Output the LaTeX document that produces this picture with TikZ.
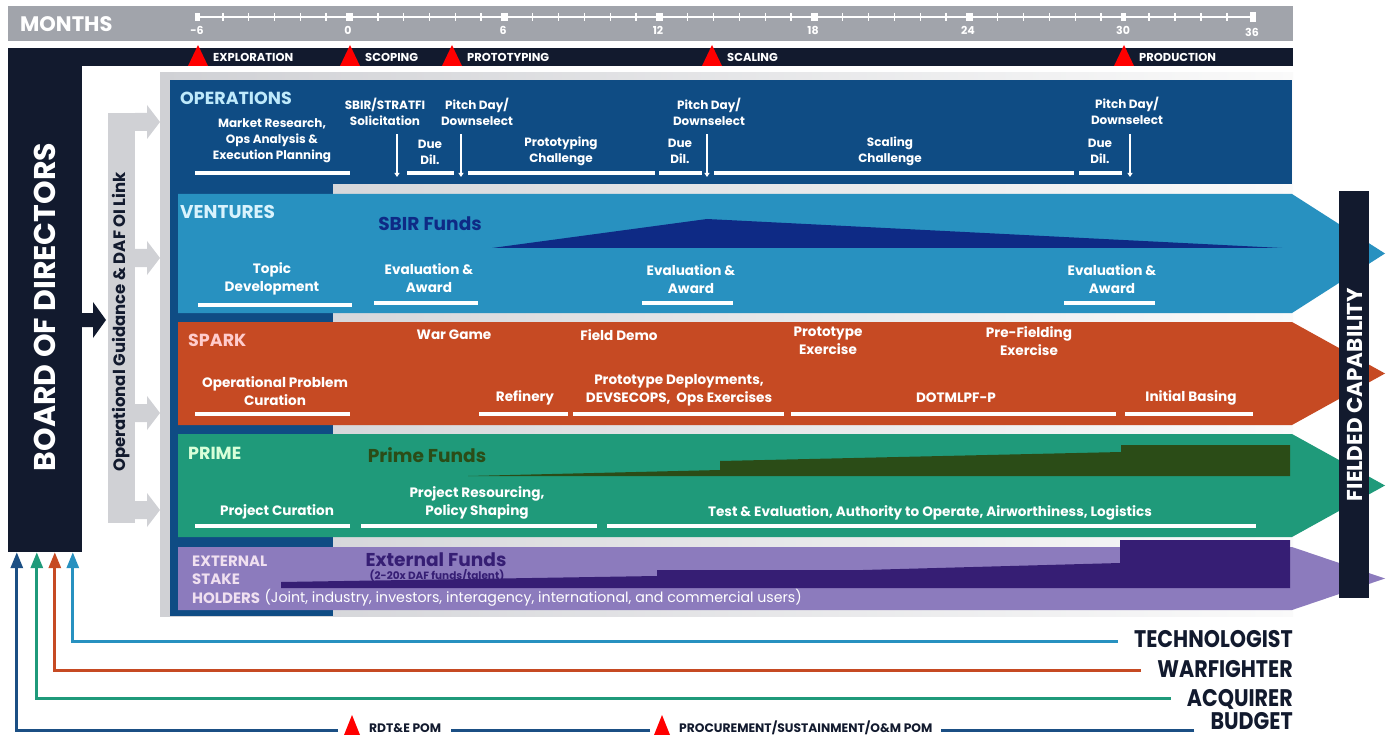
\documentclass[tikz,border=0pt]{standalone}
\usepackage{fontspec}
\setmainfont{Poppins}
\newfontfamily\condfont[FakeStretch=0.86]{Poppins}
\usetikzlibrary{arrows.meta}

\definecolor{navy}{HTML}{121A2E}
\definecolor{topgray}{HTML}{A1A4AB}
\definecolor{opsblue}{HTML}{0F4C84}
\definecolor{ventblue}{HTML}{2891C0}
\definecolor{sparkred}{HTML}{C64A23}
\definecolor{primegreen}{HTML}{1F9A7A}
\definecolor{extpurple}{HTML}{8C7BBD}
\definecolor{sbirnavy}{HTML}{0E2A85}
\definecolor{primedark}{HTML}{2B4C17}
\definecolor{extdark}{HTML}{361E74}
\definecolor{guidegray}{HTML}{D0D1D5}
\definecolor{budgetblue}{HTML}{1B4F84}

\tikzset{
  lanelabel/.style={anchor=west, inner sep=0pt, font=\bfseries\fontsize{17.5}{19}\selectfont},
  extlabel/.style={lanelabel, text=violet!12!white, font=\bfseries\fontsize{15}{17}\selectfont},
  wtxt/.style={text=white, align=center, inner sep=1pt, font=\bfseries\fontsize{12}{16}\selectfont},
  ltxt/.style={text=white, align=center, inner sep=1pt, font=\bfseries\fontsize{13.6}{18}\selectfont},
  ubar/.style={white, line width=3.5pt},
  downarr/.style={white, line width=1.8pt, -{Triangle[width=5pt,length=4pt]}},
  funds/.style={font=\bfseries\fontsize{18.6}{20}\selectfont},
  phase/.style={text=white, anchor=west, inner sep=0pt, font=\bfseries\fontsize{11.5}{12}\selectfont},
  tick/.style={white, line width=1.4pt},
  monthnum/.style={text=white, font=\bfseries\fontsize{11}{12}\selectfont},
  who/.style={text=navy, anchor=east, inner sep=0pt, font=\condfont\bfseries\fontsize{24}{24}\selectfont},
  stakeline/.style={line width=3pt, -{Triangle[width=12pt,length=16pt]}},
  pomtxt/.style={text=navy, anchor=west, inner sep=0pt, font=\bfseries\fontsize{12.3}{13}\selectfont},
}

\begin{document}
\begin{tikzpicture}[x=1pt, y=-1pt]
  \useasboundingbox (0,0) rectangle (1388,735);

  % months strip
  \fill[topgray] (8,6) rectangle (1293,41);
  \node[text=white, anchor=west, inner sep=0pt, font=\bfseries\fontsize{21}{22}\selectfont] (months) at (20,24) {MONTHS};
  \draw[white, line width=1.6pt] (197,17) -- (1253,17);
  \foreach \k in {0,...,35}
    \draw[tick] ({197+25.83*\k},13) -- ({197+25.83*\k},21);
  \foreach \xx in {1149,1175,1201,1227}
    \draw[tick] (\xx,13) -- (\xx,21);
  \foreach \xx/\m in {197/-6,348/0,503/6,658/12,813/18,968/24,1123/30}{
    \fill[white] (\xx-2.5,13) rectangle (\xx+2.5,21);
    \node[monthnum] at (\xx,30) {\m};
  }
  \fill[white] (1250,12) rectangle (1256,22);
  \node[monthnum] at (1252,32) {36};

  % phase strip
  \fill[navy] (8,48) rectangle (1293,66);
  \foreach \xx/\ph in {198/EXPLORATION,350/SCOPING,452/PROTOTYPING,712/SCALING,1124/PRODUCTION}{
    \fill[red] (\xx,45) -- (\xx+10,66) -- (\xx-10,66) -- cycle;
    \node[phase] at (\xx+15,57.5) {\ph};
  }

  % board of directors
  \node[fill=navy, minimum width=74pt, minimum height=504pt, inner sep=0pt] (board) at (45,300) {};
  \node[rotate=90, text=white, font=\bfseries\fontsize{30}{31}\selectfont] (boardtxt) at (45,307) {BOARD OF DIRECTORS};
  \fill[navy] (82,313) rectangle (93,327) (93,302) -- (106,320) -- (93,338) -- cycle;

  % operational guidance bar
  \fill[guidegray] (108,113) rectangle (135,523);
  \foreach \yy in {122,258,413,510}
    \fill[guidegray] (135,\yy-9) rectangle (147,\yy+9) (147,\yy-17) -- (160,\yy) -- (147,\yy+17) -- cycle;
  \node[rotate=90, text=navy, font=\bfseries\fontsize{16.5}{17}\selectfont] (guide) at (121.5,322) {Operational Guidance \& DAF OI Link};

  % backdrop panel
  \shade[left color=guidegray, right color=gray!4] (160,73) rectangle (1293,616);
  \fill[opsblue] (170,80) rectangle (333,616);
  \fill[opsblue] (170,80) rectangle (1292,184);

  % lanes
  \fill[ventblue] (178,194) -- (1292,194) -- (1385,253.5) -- (1292,313) -- (178,313) -- cycle;
  \fill[sparkred] (178,322) -- (1292,322) -- (1385,373.5) -- (1292,425) -- (178,425) -- cycle;
  \fill[primegreen] (178,434) -- (1292,434) -- (1385,485.5) -- (1292,537) -- (178,537) -- cycle;
  \fill[extpurple] (178,547) -- (1292,547) -- (1385,578.5) -- (1292,610) -- (178,610) -- cycle;

  % fielded capability
  \node[fill=navy, minimum width=30pt, minimum height=407pt, inner sep=0pt] (fielded) at (1353.5,394.5) {};
  \node[rotate=90, text=white, font=\bfseries\fontsize{21.5}{22}\selectfont] at (1354.5,394.5) {FIELDED CAPABILITY};

  % operations
  \node[lanelabel, text=cyan!25!white] (ops) at (180,98) {OPERATIONS};
  \node[wtxt] (mr) at (272,141) {Market Research,\\Ops Analysis \&\\Execution Planning};
  \node[wtxt] (sol) at (385,112) {SBIR/STRATFI\\Solicitation};
  \node[wtxt] (dd1) at (430,152) {Due\\Dil.};
  \node[wtxt] (pd1) at (477,112) {Pitch Day/\\Downselect};
  \node[wtxt] (pc) at (561,151) {Prototyping\\Challenge};
  \node[wtxt] (dd2) at (680,151) {Due\\Dil.};
  \node[wtxt] (pd2) at (709,112) {Pitch Day/\\Downselect};
  \node[wtxt] (sc) at (890,151) {Scaling\\Challenge};
  \node[wtxt] (dd3) at (1100,151) {Due\\Dil.};
  \node[wtxt] (pd3) at (1127,111) {Pitch Day/\\Downselect};
  \foreach \a/\b in {195/350,407/454,468/655,659/702,714/1074,1079/1122}
    \draw[ubar] (\a,173) -- (\b,173);
  \draw[downarr] (397,134) -- (397,177);
  \draw[downarr] (461,134) -- (461,177);
  \draw[downarr] (707,134) -- (707,177);
  \draw[downarr] (1130,134) -- (1130,177);

  % ventures
  \node[lanelabel, text=cyan!15!white, font=\bfseries\fontsize{18.5}{19}\selectfont] (vent) at (180,212) {VENTURES};
  \node[funds, text=sbirnavy] (sbir) at (430,224) {SBIR Funds};
  \fill[sbirnavy] (492,248) -- (707,219) -- (1282,248) -- cycle;
  \node[ltxt] (tdev) at (272,279) {Topic\\Development};
  \node[ltxt] (ea1) at (429,278) {Evaluation \&\\Award};
  \node[ltxt] (ea2) at (691,279) {Evaluation \&\\Award};
  \node[ltxt] (ea3) at (1112,279) {Evaluation \&\\Award};
  \draw[ubar] (198,305) -- (352,305);
  \foreach \a/\b in {374/478,642/733,1064/1155}
    \draw[ubar] (\a,303) -- (\b,303);

  % spark
  \node[lanelabel, text=red!20!white] (spark) at (188,340) {SPARK};
  \node[ltxt] (wg) at (454,335) {War Game};
  \node[ltxt] (fd) at (619,335) {Field Demo};
  \node[ltxt] (pe) at (828,341) {Prototype\\Exercise};
  \node[ltxt] (pfe) at (1029,341) {Pre-Fielding\\Exercise};
  \node[ltxt] (opc) at (275,391) {Operational Problem\\Curation};
  \node[ltxt] (ref) at (525,398) {Refinery};
  \node[ltxt] (pdep) at (679,390) {Prototype Deployments,\\DEVSECOPS,\ \ Ops Exercises};
  \node[ltxt] (dot) at (956,398) {DOTMLPF-P};
  \node[ltxt] (ib) at (1191,398) {Initial Basing};
  \foreach \a/\b in {195/350,479/568,573/784,791/1116,1125/1253}
    \draw[ubar] (\a,414) -- (\b,414);

  % prime
  \node[lanelabel, text=green!15!white] (prime) at (188,453) {PRIME};
  \node[funds, text=primedark] (pfunds) at (427,455) {Prime Funds};
  \fill[primedark] (468,476) -- (720,470) -- (720,461) -- (1121,452) -- (1121,445)
    -- (1290,445) -- (1290,476) -- cycle;
  \node[ltxt] (pcur) at (277,512) {Project Curation};
  \node[ltxt] (pres) at (477,503) {Project Resourcing,\\Policy Shaping};
  \node[ltxt] (te) at (930,513) {Test \& Evaluation, Authority to Operate, Airworthiness, Logistics};
  \foreach \a/\b in {195/350,361/597,607/1256}
    \draw[ubar] (\a,526) -- (\b,526);

  % external stake holders
  \fill[extdark] (281,588) -- (281,582) -- (657,576) -- (657,570) -- (863,570) -- (1120,563)
    -- (1120,540) -- (1290,540) -- (1290,588) -- cycle;
  \node[extlabel] (ext1) at (192,561) {EXTERNAL};
  \node[extlabel] (ext2) at (192,579) {STAKE};
  \node[extlabel] (ext3) at (192,598) {HOLDERS};
  \node[anchor=west, inner sep=0pt, text=white, font=\fontsize{14.2}{15}\selectfont] (users) at ([xshift=4pt]ext3.east)
    {(Joint, industry, investors, interagency, international, and commercial users)};
  \node[funds, text=extdark] (efunds) at (436,560) {External Funds};
  \node[text=extdark, font=\bfseries\fontsize{10.5}{11}\selectfont, inner sep=0pt] (mult) at (437,575.5) {(2-20x DAF funds/talent)};

  % stakeholders
  \node[who] (tech) at (1293,639) {TECHNOLOGIST};
  \node[who] (warf) at (1293,669) {WARFIGHTER};
  \node[who] (acq) at (1293,699) {ACQUIRER};
  \node[who] (budget) at (1293,721) {BUDGET};
  \draw[stakeline, ventblue] ([xshift=-16pt]tech.west |- 0,641) -| ([xshift=65pt]board.south west);
  \draw[stakeline, sparkred] ([xshift=-16pt]warf.west |- 0,670) -| ([xshift=47pt]board.south west);
  \draw[stakeline, primegreen] ([xshift=-16pt]acq.west |- 0,698) -| ([xshift=29pt]board.south west);

  % budget line with pom marks
  \node[pomtxt] (rdte) at (369,728) {RDT\&E POM};
  \node[pomtxt] (proc) at (679,728) {PROCUREMENT/SUSTAINMENT/O\&M POM};
  \fill[red] (352,715) -- (360,735) -- (344,735) -- cycle;
  \fill[red] (662,715) -- (670,735) -- (654,735) -- cycle;
  \draw[budgetblue, line width=3pt] ([xshift=-16pt]budget.west |- 0,730) -- ([xshift=8pt]proc.east |- 0,730);
  \draw[budgetblue, line width=3pt] (650,730) -- ([xshift=10pt]rdte.east |- 0,730);
  \draw[stakeline, budgetblue] (338,730) -| ([xshift=9pt]board.south west);
\end{tikzpicture}
\end{document}
